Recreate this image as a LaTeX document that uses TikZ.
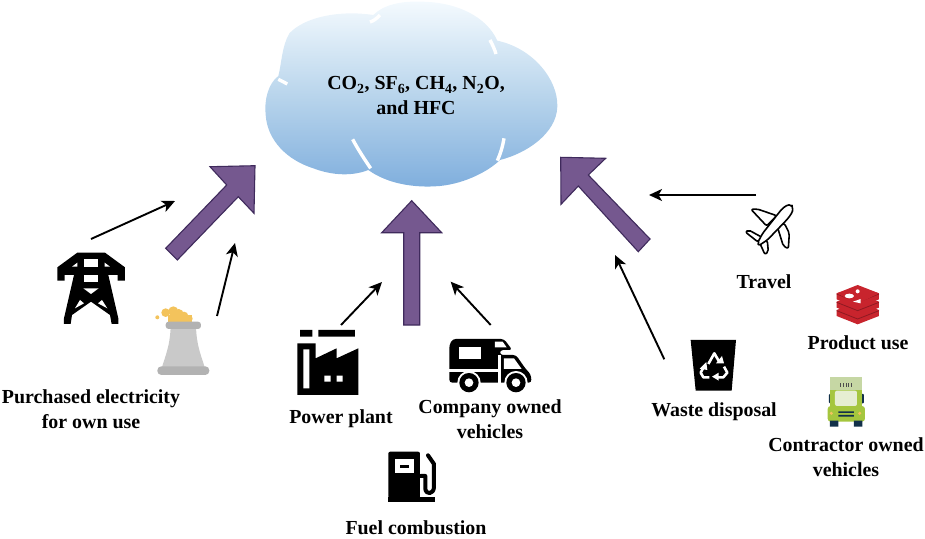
\documentclass[tikz,border=0pt]{standalone}
\usepackage{fontspec}
\setmainfont{Liberation Serif}
\usetikzlibrary{arrows.meta}
\definecolor{cloudtop}{HTML}{F4FAFE}
\definecolor{cloudmid}{HTML}{B9D5EC}
\definecolor{cloudlow}{HTML}{7FAEDD}
\definecolor{flowfill}{HTML}{75588F}
\definecolor{flowedge}{HTML}{3F2A5C}
\definecolor{towerbody}{HTML}{C9C9C9}
\definecolor{towerband}{HTML}{B2B2B2}
\definecolor{steam}{HTML}{F3C35C}
\definecolor{stackred}{HTML}{C8242D}
\definecolor{stackdark}{HTML}{8E1A22}
\definecolor{cabgreen}{HTML}{A5C63E}
\definecolor{cabpale}{HTML}{C6D7A4}
\definecolor{cabglass}{HTML}{E6EED2}
\definecolor{cabdark}{HTML}{12304A}
\tikzset{
  lbl/.style={font=\fontsize{19.9}{25}\selectfont\bfseries,align=center,inner sep=0pt,text=black},
  flow/.style={fill=flowfill,draw=flowedge,line width=1.1pt,line join=miter},
  feeder/.style={draw=black,line width=1.9pt,-{Stealth[length=13pt,width=12pt,inset=3.5pt]}},
  detail/.style 2 args={xshift=#1pt,yshift=-#2pt,x=.3333pt,y=-.3333pt},
  gap/.style={draw=white,line width=3.4pt,line cap=butt}
}
\begin{document}
\begin{tikzpicture}[x=1pt,y=-1pt]
\useasboundingbox (0,0) rectangle (925,538);

% cloud with its white lobe seams
\begin{scope}[detail={250}{0}]
  \path[top color=cloudtop,bottom color=cloudlow,middle color=cloudmid]
    (85,228) .. controls (55,250) and (42,300) .. (47,345)
    .. controls (52,420) and (110,480) .. (190,505)
    .. controls (250,528) and (310,528) .. (355,510)
    .. controls (410,550) and (490,565) .. (570,558)
    .. controls (650,550) and (720,510) .. (750,480)
    .. controls (830,460) and (920,400) .. (922,320)
    .. controls (925,240) and (850,145) .. (742,122)
    .. controls (710,50) and (620,5) .. (510,5)
    .. controls (450,3) and (400,15) .. (370,45)
    .. controls (270,30) and (165,50) .. (118,100)
    .. controls (95,140) and (95,190) .. (85,228) -- cycle;
  \draw[gap] (308,418) .. controls (325,450) and (345,480) .. (362,505);
  \draw[gap] (762,415) .. controls (758,440) and (752,460) .. (742,482);
  \draw[gap] (720,120) .. controls (728,135) and (735,150) .. (738,162);
  \draw[gap] (360,66) .. controls (370,63) and (380,56) .. (390,45);
  \draw[gap] (85,238) .. controls (95,243) and (105,248) .. (112,252);
\end{scope}
\node[lbl] (gases) at (416,96) {CO\textsubscript{2}, SF\textsubscript{6}, CH\textsubscript{4}, N\textsubscript{2}O,\\and HFC};

% the three wide flows towards the cloud
\draw[flow] (165.7,248.3) -- (226.7,185) -- (210,166.7) -- (255,165.7) -- (254,213.3) -- (238.3,196.7) -- (177.3,260) -- cycle;
\draw[flow] (403.7,325) -- (403.7,232.7) -- (381.7,232.7) -- (411.7,200.7) -- (441.7,232.7) -- (419.7,232.7) -- (419.7,325) -- cycle;
\draw[flow] (650,239) -- (588.3,175) -- (605.7,158.3) -- (560.7,157.3) -- (561,204.3) -- (578.3,186) -- (638.3,251.7) -- cycle;

% pylon
\begin{scope}[detail={0}{150}]
  \fill[black] (232,308) -- (315,308) -- (375,352) -- (375,392) -- (353,392) -- (353,375) -- (325,375)
    -- (355,505) -- (355,522) -- (335,522) -- (330,495) -- (273,455) -- (216,495) -- (212,522) -- (192,522) -- (192,505)
    -- (222,375) -- (194,375) -- (194,392) -- (172,392) -- (172,352) -- cycle;
  \fill[white] (252,328) rectangle (294,350);
  \fill[white] (252,375) rectangle (294,396);
  \fill[white] (250,415) -- (296,415) -- (273,432) -- cycle;
  \fill[white] (240,450) -- (252,460) -- (225,475) -- cycle;
  \fill[white] (306,450) -- (294,460) -- (322,475) -- cycle;
  \fill[white] (232,338) -- (232,350) -- (216,350) -- cycle;
  \fill[white] (314,338) -- (314,350) -- (330,350) -- cycle;
\end{scope}
\coordinate (pylonout) at (91,239);

% cooling tower
\begin{scope}[detail={0}{150}]
  \fill[steam] (505,495) rectangle (575,518);
  \fill[steam] (497,488) circle (13);
  \fill[steam] (520,484) circle (15);
  \fill[steam] (536,492) circle (15);
  \fill[steam] (552,498) circle (13);
  \fill[steam] (567,506) circle (11);
  \fill[steam] (472,502) circle (6);
  \fill[towerbody] (512,530) -- (588,530) .. controls (590,590) and (605,620) .. (615,655) -- (485,655) .. controls (495,620) and (510,590) .. (512,530) -- cycle;
  \fill[towerband,rounded corners=3pt] (497,515) rectangle (603,537);
  \fill[towerband,rounded corners=4pt] (472,649) rectangle (628,675);
\end{scope}
\coordinate (towerout) at (217,316);

% factory
\begin{scope}[detail={280}{190}]
  \fill[black] (60,420) rectangle (97,440) (115,420) rectangle (225,440);
  \fill[black] (52,460) -- (107,460) -- (107,505) -- (170,475) -- (170,505) -- (235,475) -- (235,615) -- (52,615) -- cycle;
  \fill[white] (70,478) rectangle (88,595) (133,557) rectangle (152,575) (170,557) rectangle (188,575);
\end{scope}
\coordinate (plantout) at (341,325);

% camper van
\begin{scope}[detail={280}{190}]
  \fill[black,rounded corners=3pt] (508,465) -- (518,447) -- (672,447) -- (697,480) -- (660,480) -- (660,495) -- (708,495)
    -- (738,538) -- (752,552) -- (755,578) -- (508,578) -- cycle;
  \fill[white] (537,472) rectangle (602,506);
  \fill[white] (645,455) -- (668,455) -- (680,472) -- (645,472) -- cycle;
  \fill[white] (672,505) -- (702,505) -- (725,537) -- (672,537) -- cycle;
  \fill[white] (508,537) rectangle (655,546);
  \fill[white] (655,495) rectangle (662,578);
  \fill[white] (567,578) circle (35) (708,578) circle (35);
  \fill[black] (567,578) circle (29) (708,578) circle (29);
  \fill[white] (567,578) circle (13) (708,578) circle (13);
\end{scope}
\coordinate (camperout) at (490.7,325);

% fuel pump
\begin{scope}[detail={280}{190}]
  \fill[black,rounded corners=2pt] (325,785) rectangle (420,925);
  \fill[black] (325,920) rectangle (465,935);
  \fill[white] (345,808) rectangle (402,850);
  \fill[black] (360,825) rectangle (387,835);
  \draw[black,line width=4pt,line cap=round,line join=round] (422,858) -- (436,858) -- (436,895)
    .. controls (436,915) and (462,915) .. (462,890) -- (462,822) -- (444,796);
\end{scope}

% recycling bin
\begin{scope}[detail={630}{150}]
  \fill[black] (182,570) -- (318,570) -- (305,722) -- (197,722) -- cycle;
  \begin{scope}[draw=white,fill=white,line width=2.6pt,line join=round]
    \draw (235,642) -- (253,610) -- (268,636);
    \fill[white] (258,640) -- (282,640) -- (276,618) -- cycle;
    \draw (282,650) -- (292,668) -- (280,682) -- (262,682);
    \fill[white] (266,668) -- (266,692) -- (246,680) -- cycle;
    \draw (238,682) -- (220,682) -- (212,668) -- (222,650);
    \fill[white] (209,656) -- (232,660) -- (229,636) -- cycle;
  \end{scope}
\end{scope}
\coordinate (binout) at (664.3,359.3);

% aeroplane
\begin{scope}[detail={630}{150}]
  \begin{scope}[fill=white,draw=black,line width=1.6pt,line join=round,rounded corners=2pt]
    \filldraw (440,197) -- (382,177) -- (363,178) -- (410,228) -- cycle;
    \filldraw (442,230) -- (460,288) -- (475,296) -- (478,250) -- (463,220) -- cycle;
    \filldraw (396,262) -- (356,240) -- (346,246) -- (384,276) -- cycle;
    \filldraw (388,276) -- (405,314) -- (415,305) -- (412,272) -- cycle;
    \filldraw (486,172) .. controls (478,160) and (462,170) .. (450,184)
      -- (398,250) -- (383,278) -- (386,287) -- (412,270) -- (468,212)
      .. controls (480,198) and (490,184) .. (486,172) -- cycle;
  \end{scope}
\end{scope}
\coordinate (planeout) at (756,195);

% layered product stack
\begin{scope}[detail={630}{150}]
  \foreach \lift in {0,25,50}{
    \fill[stackred] (620,480-\lift) -- (683,455-\lift) -- (747,480-\lift) -- (747,498-\lift) -- (683,523-\lift) -- (620,498-\lift) -- cycle;
    \draw[stackdark,line width=.8pt] (620,482-\lift) -- (683,507-\lift) -- (747,482-\lift);
  }
  \fill[stackred] (620,430) -- (683,410) -- (747,430) -- (683,461) -- cycle;
  \fill[white] (658,438) ellipse (14 and 7);
  \fill[white] (683,424) circle (6);
  \fill[white] (669,455) -- (692,447) -- (692,460) -- cycle;
\end{scope}

% truck seen from the front
\begin{scope}[detail={630}{150}]
  \fill[cabpale] (600,682) rectangle (697,745);
  \fill[cabdark,rounded corners=1pt] (597,732) rectangle (606,760) (692,732) rectangle (702,760);
  \fill[cabgreen] (601,720) rectangle (696,772);
  \fill[cabgreen,rounded corners=3pt] (593,768) rectangle (705,815);
  \fill[cabglass,rounded corners=2pt] (615,722) rectangle (681,768);
  \fill[cabdark] (600,812) rectangle (625,830) (672,812) rectangle (697,830);
  \fill[cabdark] (625,784) rectangle (672,789) (625,795) rectangle (672,800);
  \foreach \vx in {633,641,649,657,665}{\fill[black!70] (\vx-1.5,699) rectangle (\vx+1.5,711);}
  \fill[steam] (604,790) circle (5);
  \fill[steam] (689,790) circle (5);
\end{scope}

% feeders
\coordinate (leftupper) at (175,201);
\coordinate (leftlower) at (235,243);
\coordinate (midleft) at (382,282);
\coordinate (midright) at (450.7,281.7);
\coordinate (rightlower) at (615,255);
\coordinate (rightupper) at (649,195);
\draw[feeder] (pylonout) -- (leftupper);
\draw[feeder] (towerout) -- (leftlower);
\draw[feeder] (plantout) -- (midleft);
\draw[feeder] (camperout) -- (midright);
\draw[feeder] (binout) -- (rightlower);
\draw[feeder] (planeout) -- (rightupper);

% labels
\node[lbl] (elec) at (91,409) {Purchased electricity\\for own use};
\node[lbl] (plant) at (341,419) {Power plant};
\node[lbl] (company) at (490,419) {Company owned\\vehicles};
\node[lbl] (fuel) at (416,527.5) {Fuel combustion};
\node[lbl] (waste) at (714,412) {Waste disposal};
\node[lbl] (travel) at (764,282) {Travel};
\node[lbl] (product) at (858,343) {Product use};
\node[lbl] (contractor) at (846,457) {Contractor owned\\vehicles};
\end{tikzpicture}
\end{document}
